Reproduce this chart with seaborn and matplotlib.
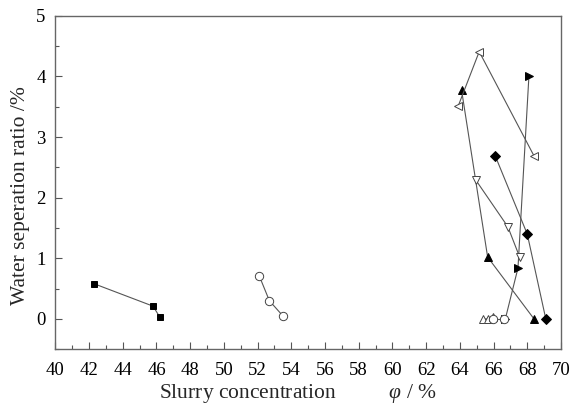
import matplotlib
matplotlib.use("Agg")
import matplotlib.pyplot as plt
import seaborn as sns
import pandas as pd
from matplotlib.ticker import MultipleLocator

# ---- data ----
sq_x = [42.3, 45.8, 46.2]
sq_y = [0.58, 0.21, 0.03]
ci_x = [52.1, 52.7, 53.5]
ci_y = [0.71, 0.30, 0.05]
tu_x = [64.1, 65.65, 68.4]
tu_y = [3.78, 1.02, 0.0]
tl_x = [63.9, 65.15, 68.4]
tl_y = [3.51, 4.41, 2.69]
tr_x = [68.1, 67.45, 66.7]
tr_y = [4.01, 0.84, 0.0]
di_x = [66.1, 68.0, 69.1]
di_y = [2.69, 1.40, 0.0]
td_x = [64.95, 66.85, 67.55]
td_y = [2.29, 1.52, 1.02]
ou_x = [65.35, 65.65, 65.95]
ou_y = [0.0, 0.0, 0.03]
oc_x = [65.95, 66.65]
oc_y = [0.0, 0.0]

x_ticks = list(range(40, 71, 2))
y_ticks = [0, 1, 2, 3, 4, 5]

sns.set_theme(style="ticks")
plt.rcParams['font.family'] = ['Liberation Serif', 'DejaVu Serif']
plt.rcParams['mathtext.fontset'] = 'custom'
plt.rcParams['mathtext.it'] = 'Liberation Serif:italic'
plt.rcParams['mathtext.rm'] = 'Liberation Serif'

fig = plt.figure(figsize=(5.72, 4.07), dpi=100)
ax = fig.add_axes([0.0967, 0.142, 0.884, 0.819])

lc = '#555555'
series = [
    (sq_x, sq_y, 's', 'black'),
    (ci_x, ci_y, 'o', 'white'),
    (tu_x, tu_y, '^', 'black'),
    (tl_x, tl_y, '<', 'white'),
    (tr_x, tr_y, '>', 'black'),
    (di_x, di_y, 'D', 'black'),
    (td_x, td_y, 'v', 'white'),
    (ou_x, ou_y, '^', 'white'),
    (oc_x, oc_y, 'o', 'white'),
]
for xs, ys, m, fc in series:
    df = pd.DataFrame({'x': xs, 'y': ys})
    ms = 5.0 if m in ('D', 's') else 6.0
    sns.lineplot(data=df, x='x', y='y', sort=False, estimator=None, ax=ax,
                 color=lc, linewidth=0.8, marker=m, markersize=ms,
                 markerfacecolor=fc, markeredgecolor='black' if fc == 'black' else '#444444',
                 markeredgewidth=0.7)

ax.set_xlim(40, 70)
ax.set_ylim(-0.5, 5)
ax.set_xticks(x_ticks)
ax.set_yticks(y_ticks)
ax.xaxis.set_minor_locator(MultipleLocator(1))
ax.yaxis.set_minor_locator(MultipleLocator(0.5))
ax.tick_params(axis='both', which='both', direction='in', colors='#555555',
               labelcolor='black', labelsize=13.5)
ax.tick_params(which='major', length=5, width=0.8)
ax.tick_params(which='minor', length=3, width=0.8)
ax.tick_params(axis='x', pad=9)
ax.tick_params(axis='y', pad=7)
for s in ax.spines.values():
    s.set_color('#666666')
    s.set_linewidth(1.0)
ax.set_xlabel("Slurry concentration          $\\mathit{φ}$ / %", fontsize=15.5, labelpad=2)
ax.set_ylabel("Water seperation ratio /%", fontsize=15.5, labelpad=2)
ax.yaxis.set_label_coords(-0.05, 0.462)
ax.xaxis.set_label_coords(0.48, -0.097)

fig.savefig("out.png", dpi=100)
